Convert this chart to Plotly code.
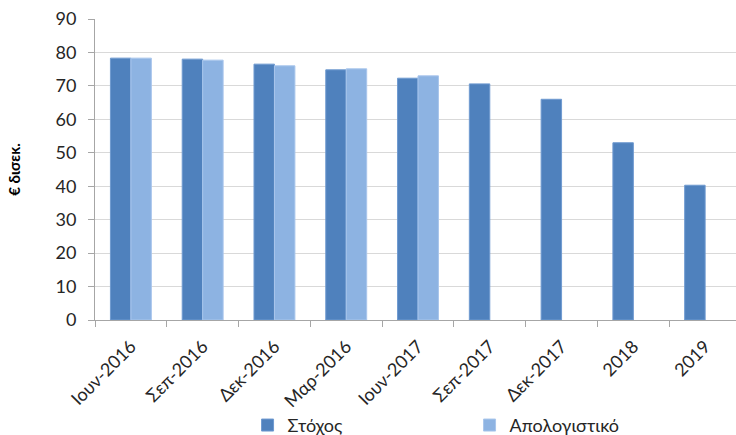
import plotly.graph_objects as go

categories = ["Ιουν-2016", "Σεπ-2016", "Δεκ-2016", "Μαρ-2016", "Ιουν-2017",
              "Σεπ-2017", "Δεκ-2017", "2018", "2019"]
target = [78.3, 78.0, 76.5, 74.8, 72.3, 70.6, 66.0, 53.0, 40.3]
actual = [78.3, 77.7, 76.0, 75.1, 73.0, None, None, None, None]
y_ticks = [0, 10, 20, 30, 40, 50, 60, 70, 80, 90]

FONT = "Lato, 'Noto Sans', sans-serif"

fig = go.Figure()
fig.add_trace(go.Bar(
    x=categories, y=target, name="Στόχος",
    marker=dict(color="#4F81BD", line=dict(color="#6F9AD0", width=1)),
))
fig.add_trace(go.Bar(
    x=categories, y=actual, name="Απολογιστικό",
    marker=dict(color="#8DB3E2", line=dict(color="#A9C6EC", width=1)),
))

fig.update_layout(
    width=736, height=435,
    margin=dict(l=95, r=0, t=19, b=115, autoexpand=False),
    paper_bgcolor="white", plot_bgcolor="white",
    barmode="group", bargap=0.43, bargroupgap=0,
    font=dict(family=FONT, size=18, color="#404040"),
    showlegend=True,
    legend=dict(
        orientation="h", x=0.238, y=-0.35, xref="paper", yref="paper",
        xanchor="left", yanchor="middle", entrywidth=177,
        font=dict(family=FONT, size=18, color="#262626"),
        itemwidth=30,
    ),
    xaxis=dict(
        type="category", range=[-0.5, 8.43], automargin=False,
        tickangle=-45, tickson="boundaries", ticks="outside", ticklen=6,
        ticklabelstandoff=8,
        tickcolor="#A6A6A6", showline=True, linecolor="#A6A6A6", linewidth=1,
        showgrid=False, tickfont=dict(family=FONT, size=18, color="#262626"),
    ),
    yaxis=dict(
        range=[0, 90], tickvals=y_ticks, ticks="outside", ticklen=6,
        automargin=False, ticklabelstandoff=8,
        tickcolor="#A6A6A6", showline=True, linecolor="#A6A6A6", linewidth=1,
        showgrid=True, gridcolor="#D9D9D9", gridwidth=1, zeroline=False,
        tickfont=dict(family=FONT, size=18, color="#262626"),
        title=dict(text="<b>€ δισεκ.</b>", standoff=31,
                   font=dict(family=FONT, size=15, color="#000000")),
    ),
)

fig.write_html(
    "out.html",
    config={"displayModeBar": False},
    post_script="document.body.style.margin='0';document.body.style.overflow='hidden';",
)
